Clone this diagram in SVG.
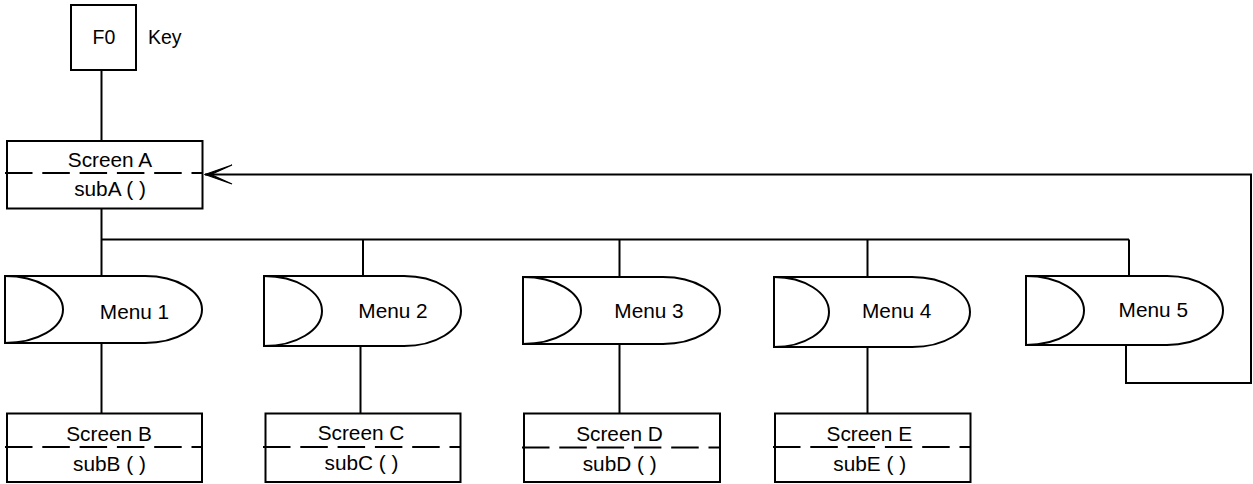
<svg xmlns="http://www.w3.org/2000/svg" width="1253" height="484" viewBox="0 0 1253 484">
  <style>
    .box { fill: #ffffff; stroke: #000000; stroke-width: 2; }
    .menu { fill: #ffffff; stroke: #000000; stroke-width: 2; stroke-linejoin: miter; }
    .inner { fill: none; stroke: #000000; stroke-width: 2; }
    .split { fill: none; stroke: #000000; stroke-width: 2; stroke-dasharray: 27.5 9.8; }
    .wire { fill: none; stroke: #000000; stroke-width: 2; }
    .lbl { font-family: "Liberation Sans", Arial, sans-serif; font-size: 20.8px; fill: #000000; text-anchor: middle; }
    .key { font-family: "Liberation Sans", Arial, sans-serif; font-size: 19.5px; fill: #000000; }
  </style>
  <defs>
    <!-- slim notched arrowhead, tip at the end of the path -->
    <marker id="arrowOpen" markerUnits="userSpaceOnUse" markerWidth="30" markerHeight="24" refX="29" refY="11" orient="auto" viewBox="0 0 30 22">
      <path d="M29,11 L2,1.5 L23,11 L2,20.5 Z" fill="#000000" stroke="#000000" stroke-width="1.2" stroke-linejoin="miter"/>
    </marker>
  </defs>

  <!-- connectors -->
  <g id="connectors">
    <line class="wire" x1="101.5" y1="70" x2="101.5" y2="141"/>
    <line class="wire" x1="101.5" y1="208" x2="101.5" y2="276"/>
    <line class="wire" x1="101.5" y1="239.5" x2="1129" y2="239.5"/>
    <line class="wire" x1="363" y1="239.5" x2="363" y2="276"/>
    <line class="wire" x1="619.5" y1="239.5" x2="619.5" y2="277"/>
    <line class="wire" x1="867.5" y1="239.5" x2="867.5" y2="277"/>
    <line class="wire" x1="1129" y1="239.5" x2="1129" y2="276"/>
    <line class="wire" x1="101.5" y1="343" x2="101.5" y2="413"/>
    <line class="wire" x1="360.5" y1="346" x2="360.5" y2="413"/>
    <line class="wire" x1="619.5" y1="344" x2="619.5" y2="413"/>
    <line class="wire" x1="867.5" y1="347" x2="867.5" y2="413"/>
    <!-- return path from Menu 5 back to Screen A -->
    <polyline class="wire" points="1126,345 1126,383 1251,383 1251,174.5 205,174.5" marker-end="url(#arrowOpen)"/>
  </g>

  <!-- F0 key -->
  <g id="f0">
    <rect class="box" x="71" y="5" width="65" height="65"/>
    <text class="lbl" x="104" y="43.5" style="font-size:19.5px">F0</text>
    <text class="key" x="148" y="43.5">Key</text>
  </g>

  <!-- screens -->
  <g id="screenA">
    <rect class="box" x="7" y="141" width="195.5" height="67.5"/>
    <line class="split" x1="5" y1="173" x2="202" y2="173"/>
    <text class="lbl" x="110" y="166.5">Screen A</text>
    <text class="lbl" x="110" y="196">subA ( )</text>
  </g>
  <g id="screenB">
    <rect class="box" x="7" y="413.5" width="195" height="68.5"/>
    <line class="split" x1="5" y1="447" x2="202" y2="447"/>
    <text class="lbl" x="109" y="441">Screen B</text>
    <text class="lbl" x="109.5" y="470.5">subB ( )</text>
  </g>
  <g id="screenC">
    <rect class="box" x="265.5" y="413.5" width="195" height="68.5"/>
    <line class="split" x1="263" y1="447" x2="460.5" y2="447"/>
    <text class="lbl" x="361" y="440">Screen C</text>
    <text class="lbl" x="361.5" y="469.5">subC ( )</text>
  </g>
  <g id="screenD">
    <rect class="box" x="524" y="413.5" width="196" height="68.5"/>
    <line class="split" x1="522" y1="447.5" x2="720" y2="447.5"/>
    <text class="lbl" x="619.5" y="441">Screen D</text>
    <text class="lbl" x="619.7" y="470.5">subD ( )</text>
  </g>
  <g id="screenE">
    <rect class="box" x="775" y="413.5" width="195.5" height="68.5"/>
    <line class="split" x1="773" y1="447" x2="970.5" y2="447"/>
    <text class="lbl" x="869.3" y="441">Screen E</text>
    <text class="lbl" x="869.7" y="470.5">subE ( )</text>
  </g>

  <!-- menus -->
  <g id="menu1">
    <path class="menu" d="M145,276 L5,276 L5,343 L145,343 A57,33.5 0 0 0 145,276 Z"/>
    <path class="inner" d="M5,276 A58,33.5 0 0 1 5,343"/>
    <text class="lbl" x="134.5" y="318.5">Menu 1</text>
  </g>
  <g id="menu2">
    <path class="menu" d="M404,276 L264,276 L264,346 L404,346 A57,35 0 0 0 404,276 Z"/>
    <path class="inner" d="M264,276 A58,35 0 0 1 264,346"/>
    <text class="lbl" x="393" y="318">Menu 2</text>
  </g>
  <g id="menu3">
    <path class="menu" d="M663,277 L523,277 L523,344 L663,344 A57,33.5 0 0 0 663,277 Z"/>
    <path class="inner" d="M523,277 A58,33.5 0 0 1 523,344"/>
    <text class="lbl" x="649" y="318">Menu 3</text>
  </g>
  <g id="menu4">
    <path class="menu" d="M912,277 L774,277 L774,347 L912,347 A58,35 0 0 0 912,277 Z"/>
    <path class="inner" d="M774,277 A55,35 0 0 1 774,347"/>
    <text class="lbl" x="896.7" y="318">Menu 4</text>
  </g>
  <g id="menu5">
    <path class="menu" d="M1167,276 L1026,276 L1026,345 L1167,345 A56,34.5 0 0 0 1167,276 Z"/>
    <path class="inner" d="M1026,276 A58,34.5 0 0 1 1026,345"/>
    <text class="lbl" x="1153.3" y="317">Menu 5</text>
  </g>
</svg>
